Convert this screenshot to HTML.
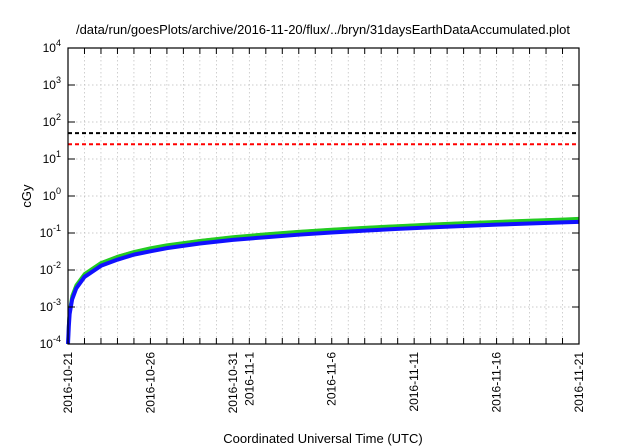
<!DOCTYPE html>
<html><head><meta charset="utf-8"><style>
body{margin:0;background:#fff;}
svg{display:block;font-family:"Liberation Sans",sans-serif;}
</style></head><body>
<svg id="chart" width="640" height="448">
<text x="323" y="34" text-anchor="middle" font-size="13">/data/run/goesPlots/archive/2016-11-20/flux/../bryn/31daysEarthDataAccumulated.plot</text>
<text transform="translate(31,196) rotate(-90)" text-anchor="middle" font-size="13">cGy</text>
<text x="323" y="443" text-anchor="middle" font-size="13">Coordinated Universal Time (UTC)</text>
<g id="grid"></g><g id="series"></g><g id="axes"></g>
</svg>
<script>
const dayOffsets=[0,0.05,0.1,0.25,0.5,1,2,3,4,5,6,8,10,12,14,16,18,20,22,24,26,28,30,31];
const blueValues=[0.0001,0.0003,0.00065,0.0016,0.0032,0.0065,0.013,0.019,0.026,0.032,0.039,0.052,0.065,0.077,0.09,0.103,0.116,0.129,0.142,0.155,0.168,0.181,0.194,0.2];
const greenValues=[0.0001,0.0004,0.0008,0.002,0.0039,0.0078,0.0156,0.023,0.031,0.039,0.047,0.062,0.078,0.093,0.109,0.124,0.14,0.155,0.171,0.186,0.202,0.217,0.233,0.245];
const redValues=[0.0001,0.00041,0.00082,0.002,0.004,0.008,0.016,0.024,0.032,0.04,0.048,0.064,0.08,0.096,0.112,0.128,0.144,0.16,0.176,0.192,0.208,0.224,0.24,0.25];
const thresholdValues=[50,25];
const thresholdColors=['#000','#f00'];
const yTickExps=[-4,-3,-2,-1,0,1,2,3,4];
const xTickDays=[0,5,10,11,16,21,26,31];
const xTickLabels=['2016-10-21','2016-10-26','2016-10-31','2016-11-1','2016-11-6','2016-11-11','2016-11-16','2016-11-21'];
const totalDays=31;
const L=68,R=579,T=48,B=344;
const NS='http://www.w3.org/2000/svg';
const xs=d=>L+(R-L)*d/totalDays;
const ys=v=>B-(B-T)*(Math.log10(v)+4)/8;
function mk(tag,attrs,parent){const e=document.createElementNS(NS,tag);for(const k in attrs)e.setAttribute(k,attrs[k]);parent.appendChild(e);return e;}
const grid=document.getElementById('grid'),axes=document.getElementById('axes'),series=document.getElementById('series');
for(let d=1;d<totalDays;d++){
 const g=mk('line',{x1:xs(d),x2:xs(d),y1:T,y2:B,stroke:'#bbb','stroke-width':0.7,'stroke-dasharray':'1.5,2.5'},grid);
 
 
 const t1=mk('line',{x1:xs(d),x2:xs(d),y1:B,y2:B-6,stroke:'#000'},axes);
 
 
 const t2=mk('line',{x1:xs(d),x2:xs(d),y1:T,y2:T+6,stroke:'#000'},axes);
 
 
}
yTickExps.forEach(e=>{
 const y=ys(Math.pow(10,e));
 if(e>-4&&e<4){const g=mk('line',{x1:L,x2:R,y1:y,y2:y,stroke:'#bbb','stroke-width':0.7,'stroke-dasharray':'1.5,2.5'},grid);
 
 }
 const t=mk('path',{d:`M${L},${y}h7M${R},${y}h-7`,stroke:'#000'},axes);
 
 
 const lb=mk('text',{x:L-7,y:y+4,'text-anchor':'end','font-size':12},axes);
 
 
 lb.innerHTML=`10<tspan dy="-6" font-size="9">${e}</tspan>`;
});
thresholdValues.forEach((v,i)=>{
 const l=mk('line',{x1:L,x2:R,y1:ys(v),y2:ys(v),stroke:thresholdColors[i],'stroke-width':2,'stroke-dasharray':'4,3'},series);
 
 
});
function drawSeries(vals,color,w,name){
 const p=mk('polyline',{points:dayOffsets.map((d,i)=>xs(d)+','+ys(vals[i])).join(' '),fill:'none',stroke:color,'stroke-width':w,'stroke-linejoin':'round'},series);
 
 
}
drawSeries(redValues,'#f22',2,'red-series');
drawSeries(greenValues,'#2c2',3.5,'green-series');
drawSeries(blueValues,'#11f',4,'blue-series');
const f=mk('rect',{x:L,y:T,width:R-L,height:B-T,fill:'none',stroke:'#000','stroke-width':1.2},axes);


xTickDays.forEach((d,i)=>{
 const x=xs(d);
 const lb=mk('text',{transform:`translate(${x+4},352) rotate(-90)`,'text-anchor':'end','font-size':12},axes);
 
 
 lb.textContent=xTickLabels[i];
});
</script>
</body></html>
